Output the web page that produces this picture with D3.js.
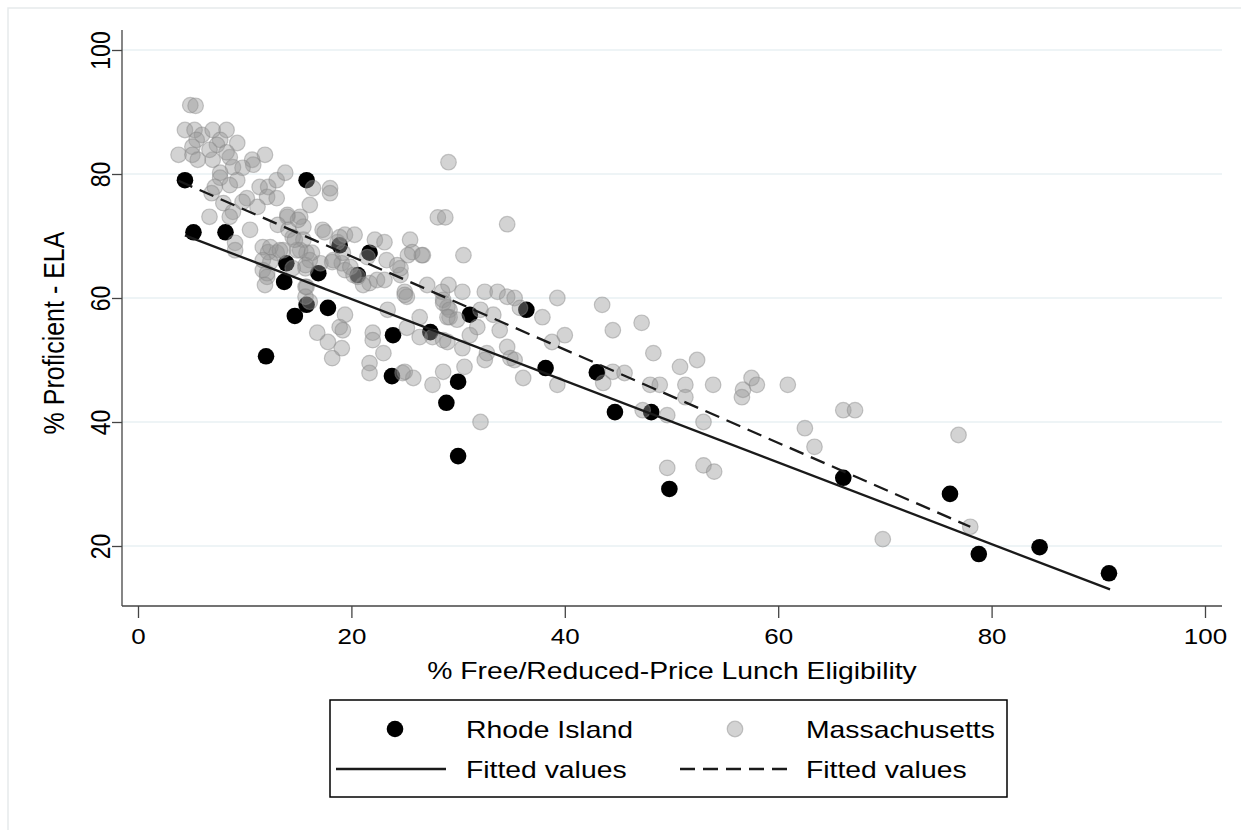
<!DOCTYPE html>
<html>
<head>
<meta charset="utf-8">
<script src="https://cdn.jsdelivr.net/npm/d3@7"></script>
<style>
  body { margin: 0; background: #fff; }
  svg { display: block; font-family: "Liberation Sans", Arial, sans-serif; }
</style>
</head>
<body>
<svg id="chart" width="1241" height="830"></svg>
<script>
// ---- data ----
const xTicks = [0, 20, 40, 60, 80, 100];
const yTicks = [20, 40, 60, 80, 100];

// Rhode Island districts: [% FRPL, % proficient]
const rhodeIsland = [
  [4.4, 79.0], [5.2, 70.6], [8.2, 70.6], [15.8, 79.0], [13.9, 65.6], [13.7, 62.6],
  [14.7, 57.1], [15.8, 58.9], [16.9, 64.0], [17.8, 58.4], [12.0, 50.6], [18.9, 68.5],
  [20.6, 63.7], [21.7, 67.3], [23.9, 54.0], [23.8, 47.4], [27.4, 54.5], [30.0, 46.5],
  [28.9, 43.1], [30.0, 34.5], [31.1, 57.3], [36.4, 58.1], [38.2, 48.7], [43.0, 48.0],
  [44.7, 41.6], [48.1, 41.6], [49.8, 29.2], [66.1, 31.0], [76.1, 28.4], [78.8, 18.7],
  [84.5, 19.8], [91.0, 15.6]
];

// Massachusetts districts: [% FRPL, % proficient]
const massachusetts = [
  [4.9, 91.1], [5.4, 91.0], [4.4, 87.1], [5.3, 87.1], [6.0, 86.3], [7.0, 87.1],
  [8.3, 87.1], [7.7, 85.5], [7.4, 84.7], [9.3, 85.0], [5.5, 85.5], [5.1, 84.4],
  [3.8, 83.1], [5.1, 83.1], [5.6, 82.3], [7.0, 82.3], [8.6, 82.7], [10.7, 82.3],
  [10.8, 81.5], [11.9, 83.1], [6.7, 83.9], [8.3, 83.5], [8.9, 81.1], [9.8, 81.0],
  [7.7, 80.2], [7.7, 79.4], [9.3, 79.0], [8.6, 78.2], [7.2, 77.9], [6.9, 76.9],
  [11.4, 77.9], [12.2, 77.9], [13.0, 79.0], [13.8, 80.2], [12.1, 76.3], [13.0, 76.1],
  [10.2, 76.1], [9.8, 75.5], [8.0, 75.3], [8.9, 73.9], [6.7, 73.1], [8.6, 73.1],
  [10.5, 71.0], [11.2, 74.7], [14.0, 73.1], [15.2, 73.1], [15.5, 71.5], [16.1, 75.0],
  [16.4, 77.7], [14.5, 69.8], [15.5, 69.4], [15.8, 67.3], [9.1, 68.9], [9.1, 67.7],
  [11.7, 68.2], [12.2, 67.4], [13.0, 67.3], [13.6, 67.7], [15.2, 67.7], [16.3, 67.3],
  [15.7, 65.3], [17.1, 65.6], [12.4, 65.8], [11.7, 64.5], [12.1, 63.4],
  [18.0, 77.7], [18.0, 76.9], [29.1, 81.9], [28.1, 73.0], [28.8, 73.0], [17.3, 71.0],
  [19.4, 70.2], [20.3, 70.2], [14.0, 73.4], [15.0, 72.6], [13.1, 71.8], [14.1, 71.0],
  [12.4, 68.2], [11.7, 66.1], [12.1, 64.0], [11.9, 62.1], [13.3, 67.7], [14.9, 67.7],
  [16.1, 66.1], [15.7, 64.8], [14.7, 69.4], [18.3, 66.1], [19.1, 65.6], [19.4, 64.5],
  [18.7, 69.0], [22.2, 69.4], [23.1, 69.0], [25.5, 69.4], [25.7, 67.4], [26.7, 66.9],
  [23.3, 66.1], [24.3, 65.3], [24.6, 63.7], [21.5, 66.6], [19.9, 65.0], [20.6, 63.4],
  [20.2, 63.7], [21.7, 62.4], [22.4, 62.9], [23.1, 62.9], [21.1, 62.1], [25.0, 61.0],
  [25.2, 60.2], [26.4, 56.9], [23.4, 58.1], [19.4, 57.3], [18.9, 55.3], [19.2, 54.8],
  [16.8, 54.4], [17.8, 52.9], [19.1, 51.9], [18.2, 50.3], [22.0, 54.4], [22.0, 53.2],
  [23.0, 51.1], [15.7, 61.8], [15.7, 60.2], [16.1, 59.4], [28.6, 59.7], [29.0, 58.5],
  [29.2, 56.9], [27.6, 53.7], [28.6, 53.2], [21.7, 49.5],
  [34.6, 71.9], [25.3, 66.9], [26.6, 66.9], [30.5, 66.9], [24.6, 64.8], [27.1, 62.1],
  [29.1, 62.1], [30.4, 61.0], [28.5, 61.0], [25.0, 60.5], [32.5, 61.0], [33.7, 61.0],
  [34.6, 60.2], [35.3, 60.0], [39.3, 60.0], [43.5, 58.9], [44.5, 54.8], [28.6, 59.2],
  [29.2, 58.1], [29.0, 56.9], [29.9, 56.5], [32.1, 58.1], [33.3, 57.3], [35.8, 58.4],
  [37.9, 56.9], [31.8, 55.3], [31.1, 54.0], [33.9, 54.8], [25.2, 55.2], [26.4, 53.7],
  [29.0, 52.9], [30.4, 51.9], [34.6, 52.1], [34.9, 50.3], [35.3, 50.0], [32.7, 51.1],
  [32.5, 50.0], [38.8, 52.9], [40.0, 54.0], [30.6, 48.9], [28.6, 48.1], [27.6, 46.0],
  [25.8, 47.1], [24.8, 47.9], [36.1, 47.1], [39.3, 46.0], [43.6, 46.3], [44.5, 48.1],
  [47.2, 56.0], [48.3, 51.1], [50.8, 48.9], [52.4, 50.0], [45.6, 47.9], [48.0, 46.0],
  [48.9, 46.0], [51.3, 46.0], [51.3, 44.0], [53.9, 46.0], [57.5, 47.1], [58.0, 46.0],
  [56.7, 45.2], [56.6, 44.0], [60.9, 46.0], [47.3, 41.9], [49.6, 41.1], [53.0, 40.0],
  [62.5, 39.0], [63.4, 36.0], [66.1, 41.9], [67.2, 41.9], [49.6, 32.6], [53.0, 33.0],
  [54.0, 32.0], [76.9, 37.9], [78.0, 23.1], [69.8, 21.1], [32.1, 40.0], [21.7, 47.9],
  [25.0, 48.1], [17.5, 70.6], [18.9, 69.8], [19.2, 67.3], [18.2, 65.8], [15.8, 61.8],
  [14.5, 64.8]
];

// fitted-value line end points
const riFit = [[4.4, 70.1], [91.1, 13.0]];
const maFit = [[3.8, 78.9], [78.0, 23.1]];

const legendItems = ["Rhode Island", "Massachusetts", "Fitted values", "Fitted values"];

// ---- chart ----
const svg = d3.select("#chart");
const stretch = 1.18; // text in the picture is drawn a bit wide

// widen horizontal text around its anchor
function widen(sel) {
  sel.each(function () {
    const len = this.getComputedTextLength();
    d3.select(this).attr("textLength", len * stretch).attr("lengthAdjust", "spacingAndGlyphs");
  });
}

// outer graph region border
svg.append("rect")
  .attr("x", 8).attr("y", 8)
  .attr("width", 1260).attr("height", 850)
  .attr("fill", "#fff")
  .attr("stroke", "#e6eaeb")
  .attr("stroke-width", 1.5);

const x = d3.scaleLinear().domain([0, 100]).range([138, 1205]);
const y = d3.scaleLinear().domain([20, 100]).range([546, 50]);

const plotLeft = 122, plotRight = 1222, plotTop = 30, plotBottom = 606;

// gridlines
svg.append("g")
  .selectAll("line")
  .data(yTicks)
  .join("line")
  .attr("x1", plotLeft).attr("x2", plotRight)
  .attr("y1", d => y(d)).attr("y2", d => y(d))
  .attr("stroke", "#e9f1f3")
  .attr("stroke-width", 1.6);

// y axis
const yAxis = svg.append("g")
  .attr("transform", `translate(${plotLeft},0)`)
  .call(d3.axisLeft(y).tickValues(yTicks).tickSize(10).tickPadding(6));
yAxis.select(".domain").attr("d", `M0,${plotTop}V${plotBottom}`).attr("stroke", "#444").attr("stroke-width", 1.3);
yAxis.selectAll(".tick line").attr("stroke", "#444").attr("stroke-width", 1.3);
yAxis.selectAll(".tick text")
  .attr("font-size", 23)
  .attr("fill", "#000")
  .attr("text-anchor", "middle")
  .attr("x", 0).attr("y", 0)
  .attr("transform", "translate(-22,0) rotate(-90) scale(1,1.18)")
  .attr("dy", "0.35em");

// x axis
const xAxis = svg.append("g")
  .attr("transform", `translate(0,${plotBottom})`)
  .call(d3.axisBottom(x).tickValues(xTicks).tickSize(12).tickPadding(10));
xAxis.select(".domain").attr("d", `M${plotLeft},0H${plotRight}`).attr("stroke", "#444").attr("stroke-width", 1.3);
xAxis.selectAll(".tick line").attr("stroke", "#444").attr("stroke-width", 1.3);
xAxis.selectAll(".tick text").attr("font-size", 22).attr("fill", "#000").call(widen);

// axis titles
svg.append("text")
  .attr("x", 672)
  .attr("y", 679)
  .attr("text-anchor", "middle")
  .attr("font-size", 24)
  .text("% Free/Reduced-Price Lunch Eligibility")
  .call(widen);

svg.append("text")
  .attr("transform", "translate(64,333) rotate(-90) scale(1,1.18)")
  .attr("text-anchor", "middle")
  .attr("font-size", 25)
  .text("% Proficient - ELA");

// scatter: Rhode Island first, Massachusetts on top
svg.append("g")
  .selectAll("circle")
  .data(rhodeIsland)
  .join("circle")
  .attr("cx", d => x(d[0]))
  .attr("cy", d => y(d[1]))
  .attr("r", 8.3)
  .attr("fill", "#000");

svg.append("g")
  .selectAll("circle")
  .data(massachusetts)
  .join("circle")
  .attr("cx", d => x(d[0]))
  .attr("cy", d => y(d[1]))
  .attr("r", 7.8)
  .attr("fill", "rgba(150,150,150,0.42)")
  .attr("stroke", "rgba(135,135,135,0.45)")
  .attr("stroke-width", 1.2);

// fitted lines
const line = d3.line().x(d => x(d[0])).y(d => y(d[1]));
svg.append("path")
  .attr("d", line(riFit))
  .attr("fill", "none")
  .attr("stroke", "#1a1a1a")
  .attr("stroke-width", 2.3);
svg.append("path")
  .attr("d", line(maFit))
  .attr("fill", "none")
  .attr("stroke", "#1a1a1a")
  .attr("stroke-width", 2.3)
  .attr("stroke-dasharray", "15,8");

// legend
const lg = svg.append("g");
lg.append("rect")
  .attr("x", 330).attr("y", 700)
  .attr("width", 677).attr("height", 97)
  .attr("fill", "#fff")
  .attr("stroke", "#000")
  .attr("stroke-width", 1.5);

lg.append("circle").attr("cx", 395).attr("cy", 729).attr("r", 8.3).attr("fill", "#000");
lg.append("circle").attr("cx", 735).attr("cy", 729).attr("r", 7.8)
  .attr("fill", "rgba(150,150,150,0.42)").attr("stroke", "rgba(135,135,135,0.45)").attr("stroke-width", 1.2);
lg.append("line").attr("x1", 336).attr("x2", 446).attr("y1", 769).attr("y2", 769)
  .attr("stroke", "#1a1a1a").attr("stroke-width", 2.3);
lg.append("line").attr("x1", 680).attr("x2", 792).attr("y1", 769).attr("y2", 769)
  .attr("stroke", "#1a1a1a").attr("stroke-width", 2.3).attr("stroke-dasharray", "15,8");

const legendPos = [[466, 729], [806, 729], [466, 769], [806, 769]];
lg.selectAll("text.item")
  .data(legendItems)
  .join("text")
  .attr("class", "item")
  .attr("x", (d, i) => legendPos[i][0])
  .attr("y", (d, i) => legendPos[i][1])
  .attr("dy", "0.36em")
  .attr("font-size", 24)
  .text(d => d)
  .call(widen);
</script>
</body>
</html>
